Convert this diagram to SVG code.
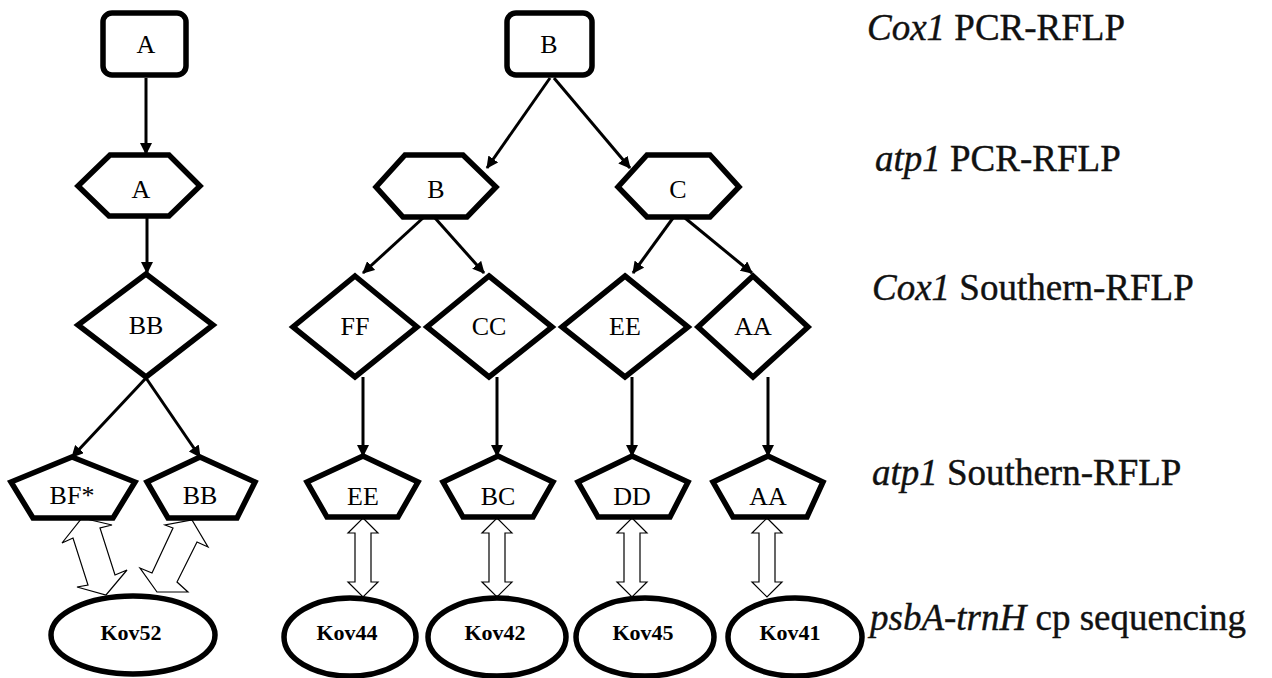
<svg xmlns="http://www.w3.org/2000/svg" width="1272" height="678" viewBox="0 0 1272 678">
<defs>
<style>
.n{fill:#fff;stroke:#000;stroke-width:5.5;stroke-linejoin:miter}
.t{font-family:"Liberation Serif","Times New Roman",serif;font-size:26px;text-anchor:middle;fill:#000}
.k{font-family:"Liberation Serif","Times New Roman",serif;font-size:22px;font-weight:bold;text-anchor:middle;fill:#000}
.c{stroke:#000;stroke-width:3;fill:none}
.h{fill:#fff;stroke:#000;stroke-width:1.2;stroke-linejoin:miter}
.r{font-family:"Liberation Serif","Times New Roman",serif;font-size:37px;fill:#111;stroke:#111;stroke-width:0.4}
</style>
<marker id="ah" markerUnits="userSpaceOnUse" markerWidth="12" markerHeight="12" refX="11" refY="6" orient="auto">
<path d="M0,0 L12,6 L0,12 z" fill="#000"/>
</marker>
</defs>
<rect width="1272" height="678" fill="#fff"/>

<g id="connectors">
<line class="c" x1="146" y1="78" x2="146" y2="154" marker-end="url(#ah)"/>
<line class="c" x1="147" y1="217" x2="147" y2="273" marker-end="url(#ah)"/>
<line class="c" x1="146" y1="378" x2="72" y2="457" marker-end="url(#ah)"/>
<line class="c" x1="146" y1="378" x2="200" y2="457" marker-end="url(#ah)"/>
<line class="c" x1="550" y1="78" x2="487" y2="168" marker-end="url(#ah)"/>
<line class="c" x1="554" y1="78" x2="630" y2="168" marker-end="url(#ah)"/>
<line class="c" x1="423" y1="218" x2="363" y2="273" marker-end="url(#ah)"/>
<line class="c" x1="435" y1="218" x2="484" y2="273" marker-end="url(#ah)"/>
<line class="c" x1="673" y1="218" x2="633" y2="273" marker-end="url(#ah)"/>
<line class="c" x1="685" y1="218" x2="752" y2="273" marker-end="url(#ah)"/>
<line class="c" x1="363" y1="377" x2="363" y2="456" marker-end="url(#ah)"/>
<line class="c" x1="497" y1="377" x2="497" y2="456" marker-end="url(#ah)"/>
<line class="c" x1="632" y1="377" x2="632" y2="456" marker-end="url(#ah)"/>
<line class="c" x1="768" y1="377" x2="768" y2="456" marker-end="url(#ah)"/>
<polygon class="h" points="82,518 112,525 100,528 115,575 127,570 106,595 77,587 88,585 73,538 62,543"/>
<polygon class="h" points="192,520 208,547 197,542 177,582 188,592 157,592 140,568 152,573 173,528 165,525"/>
<polygon class="h" points="363,518 378,533 371,533 371,582 378,582 363,597 348,582 355,582 355,533 348,533"/>
<polygon class="h" points="497,518 512,533 505,533 505,582 512,582 497,597 482,582 489,582 489,533 482,533"/>
<polygon class="h" points="632,518 647,533 640,533 640,582 647,582 632,597 617,582 624,582 624,533 617,533"/>
<polygon class="h" points="767,518 782,533 775,533 775,582 782,582 767,597 752,582 759,582 759,533 752,533"/>
</g>

<g id="nA"><rect class="n" x="103" y="13" width="83" height="62" rx="9"/><text class="t" x="146" y="53">A</text></g>
<g id="nB"><rect class="n" x="507" y="13" width="85" height="62" rx="9"/><text class="t" x="549" y="53">B</text></g>

<g id="hA"><polygon class="n" points="110,155 169,155 200,186 169,216 109,216 78,186"/><text class="t" x="141" y="198">A</text></g>
<g id="hB"><polygon class="n" points="405,155 463,155 496,187 467,217 403,217 376,187"/><text class="t" x="436" y="198">B</text></g>
<g id="hC"><polygon class="n" points="647,155 710,155 739,187 710,217 647,217 618,187"/><text class="t" x="678" y="198">C</text></g>

<g id="dBB"><polygon class="n" points="146,274 213,325 146,377 78,325"/><text class="t" x="146" y="334">BB</text></g>
<g id="dFF"><polygon class="n" points="355,276 417,327 355,377 293,327"/><text class="t" x="355" y="335">FF</text></g>
<g id="dCC"><polygon class="n" points="489,276 552,327 489,377 427,327"/><text class="t" x="489" y="335">CC</text></g>
<g id="dEE"><polygon class="n" points="625,276 688,327 625,377 562,327"/><text class="t" x="625" y="335">EE</text></g>
<g id="dAA"><polygon class="n" points="753,276 808,327 753,377 698,327"/><text class="t" x="753" y="335">AA</text></g>

<g id="pBF"><polygon class="n" points="72,457 135,482 113,518 33,518 11,482"/><text class="t" x="72" y="504">BF*</text></g>
<g id="pBB"><polygon class="n" points="200,457 255,482 237,518 168,518 147,482"/><text class="t" x="200" y="504">BB</text></g>
<g id="pEE"><polygon class="n" points="363,456 418,482 398,517 327,517 307,482"/><text class="t" x="363" y="505">EE</text></g>
<g id="pBC"><polygon class="n" points="498,456 553,482 533,517 463,517 443,482"/><text class="t" x="498" y="505">BC</text></g>
<g id="pDD"><polygon class="n" points="632,456 688,482 670,517 598,517 578,482"/><text class="t" x="632" y="505">DD</text></g>
<g id="pAA"><polygon class="n" points="768,456 823,482 807,517 733,517 713,482"/><text class="t" x="768" y="505">AA</text></g>

<g id="eK52"><ellipse class="n" cx="133" cy="635" rx="82" ry="39"/><text class="k" x="131" y="640">Kov52</text></g>
<g id="eK44"><ellipse class="n" cx="350" cy="637" rx="66" ry="39"/><text class="k" x="347" y="640">Kov44</text></g>
<g id="eK42"><ellipse class="n" cx="497" cy="637" rx="69" ry="39"/><text class="k" x="495" y="640">Kov42</text></g>
<g id="eK45"><ellipse class="n" cx="645" cy="637" rx="69" ry="39"/><text class="k" x="643" y="640">Kov45</text></g>
<g id="eK41"><ellipse class="n" cx="795" cy="637" rx="67" ry="39"/><text class="k" x="790" y="640">Kov41</text></g>

<g id="labels">
<text class="r" x="867" y="40"><tspan font-style="italic">Cox1</tspan> PCR-RFLP</text>
<text class="r" x="875" y="171"><tspan font-style="italic">atp1</tspan> PCR-RFLP</text>
<text class="r" x="872" y="300"><tspan font-style="italic">Cox1</tspan> Southern-RFLP</text>
<text class="r" x="872" y="485"><tspan font-style="italic">atp1</tspan> Southern-RFLP</text>
<text class="r" x="870" y="630"><tspan font-style="italic">psbA-trnH</tspan> cp sequencing</text>
</g>
</svg>
